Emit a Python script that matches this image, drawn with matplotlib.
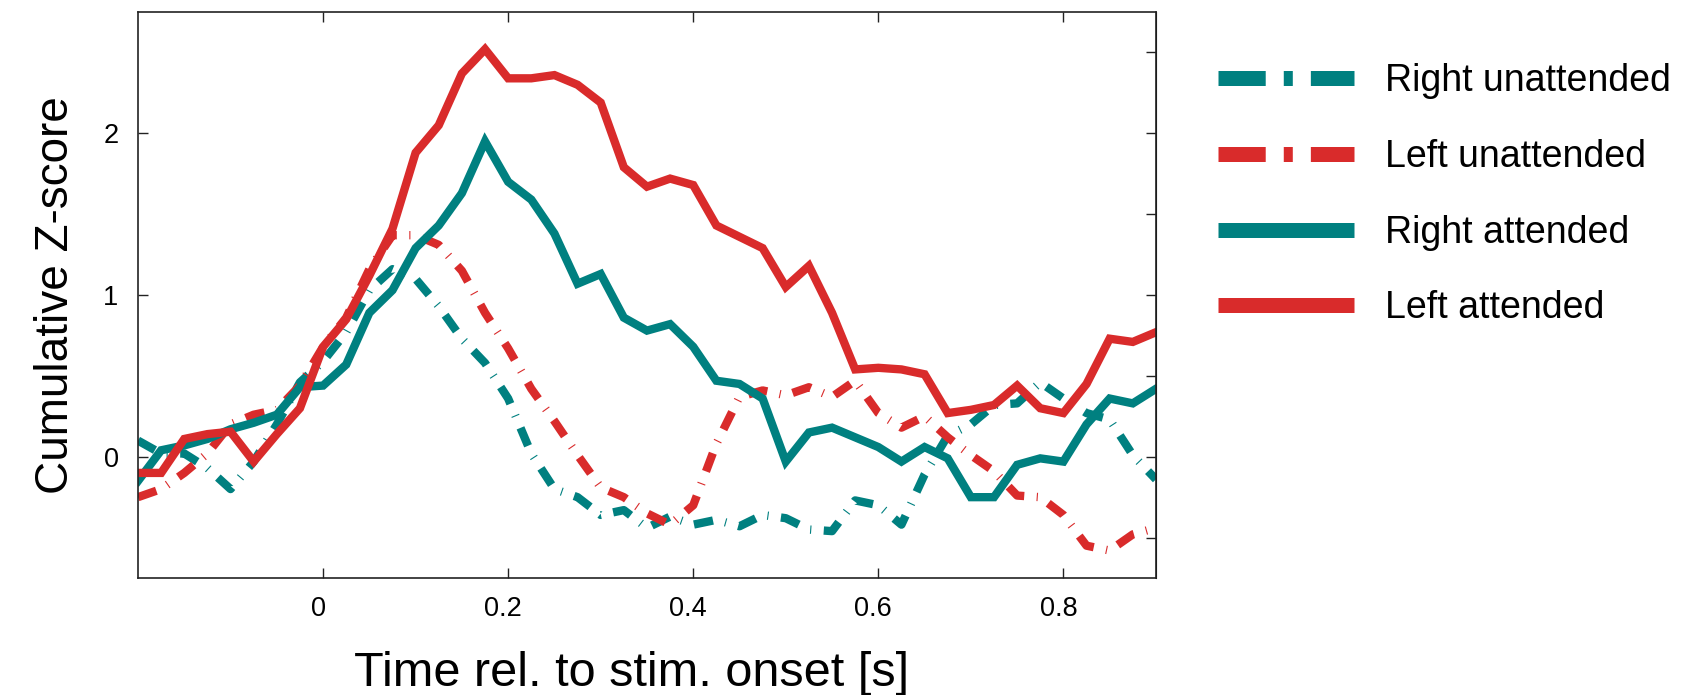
import numpy as np
import matplotlib
matplotlib.use("Agg")
import matplotlib.pyplot as plt
import matplotlib.transforms as mtransforms
from matplotlib.lines import Line2D

plt.rcParams['font.family'] = ['Liberation Sans', 'DejaVu Sans']
plt.rcParams['lines.scale_dashes'] = False

# time axis [s], one sample every 25 ms
time = [-0.2, -0.175, -0.15, -0.125, -0.1, -0.075, -0.05, -0.025, 0.0,
        0.025, 0.05, 0.075, 0.1, 0.125, 0.15, 0.175, 0.2, 0.225, 0.25,
        0.275, 0.3, 0.325, 0.35, 0.375, 0.4, 0.425, 0.45, 0.475, 0.5,
        0.525, 0.55, 0.575, 0.6, 0.625, 0.65, 0.675, 0.7, 0.725, 0.75,
        0.775, 0.8, 0.825, 0.85, 0.875, 0.9]

right_unattended = [0.10, 0.02, 0.02, -0.07, -0.20, -0.03, 0.20, 0.46, 0.59,
                    0.77, 1.03, 1.16, 1.10, 0.93, 0.73, 0.58, 0.36, 0.02, -0.20,
                    -0.25, -0.36, -0.33, -0.44, -0.37, -0.42, -0.39, -0.43, -0.36,
                    -0.38, -0.45, -0.46, -0.27, -0.30, -0.42, -0.11, 0.13, 0.20,
                    0.32, 0.33, 0.46, 0.36, 0.27, 0.23, 0.01, -0.14]
left_unattended = [-0.25, -0.20, -0.10, 0.02, 0.20, 0.26, 0.29, 0.44, 0.68,
                   0.86, 1.16, 1.37, 1.37, 1.31, 1.15, 0.89, 0.67, 0.42, 0.22,
                   0.01, -0.19, -0.25, -0.35, -0.42, -0.30, 0.08, 0.37, 0.41,
                   0.38, 0.43, 0.37, 0.47, 0.27, 0.18, 0.25, 0.12, 0.01, -0.09,
                   -0.24, -0.25, -0.36, -0.55, -0.58, -0.48, -0.44]
right_attended = [-0.15, 0.04, 0.07, 0.11, 0.17, 0.21, 0.26, 0.43, 0.44,
                  0.57, 0.89, 1.03, 1.29, 1.43, 1.63, 1.95, 1.70, 1.59, 1.38,
                  1.07, 1.13, 0.86, 0.78, 0.82, 0.68, 0.47, 0.45, 0.36, -0.03,
                  0.15, 0.18, 0.12, 0.06, -0.03, 0.06, -0.01, -0.25, -0.25,
                  -0.05, -0.01, -0.03, 0.20, 0.36, 0.33, 0.42]
left_attended = [-0.10, -0.10, 0.11, 0.14, 0.155, -0.03, 0.14, 0.30, 0.68,
                 0.85, 1.12, 1.41, 1.88, 2.05, 2.37, 2.52, 2.34, 2.34, 2.36,
                 2.30, 2.19, 1.79, 1.67, 1.72, 1.68, 1.43, 1.36, 1.29, 1.05,
                 1.18, 0.89, 0.54, 0.55, 0.54, 0.51, 0.27, 0.29, 0.32, 0.44,
                 0.30, 0.27, 0.45, 0.73, 0.71, 0.77]

labels = ['Right unattended', 'Left unattended', 'Right attended', 'Left attended']
teal = '#008080'
red = '#d92b2b'

fig = plt.figure(figsize=(16.87, 6.95), dpi=100)
ax = fig.add_axes([0.0818, 0.1683, 0.6034, 0.8144])

lw = 6.0
dashdot = (0, (14, 9, 0.8, 9))
ax.plot(time, right_unattended, color=teal, lw=lw, linestyle=dashdot)
ax.plot(time, left_unattended, color=red, lw=lw, linestyle=dashdot)
ax.plot(time, right_attended, color=teal, lw=lw, solid_joinstyle='miter')
ax.plot(time, left_attended, color=red, lw=lw, solid_joinstyle='miter')

ax.set_xlim(-0.2, 0.9)
ax.set_ylim(-0.75, 2.75)
ax.set_xticks([0, 0.2, 0.4, 0.6, 0.8])
ax.set_xticklabels(['0', '0.2', '0.4', '0.6', '0.8'])
ax.set_yticks([0, 1, 2])
ax.tick_params(direction='in', length=7, width=1.0, labelsize=19.5,
               top=True, colors='#222222', labelcolor='black')
ax.tick_params(axis='x', pad=13)
ax.tick_params(axis='y', pad=14)
for sp in ax.spines.values():
    sp.set_linewidth(1.2)
    sp.set_color('#222222')

# tick labels sit a little left of their ticks in the original
shift = mtransforms.ScaledTranslation(-5 / 100, 0, fig.dpi_scale_trans)
for lab in ax.get_xticklabels():
    lab.set_transform(lab.get_transform() + shift)

# right side has extra ticks every 0.5
right = ax.secondary_yaxis('right')
right.set_yticks([-0.5, 0, 0.5, 1, 1.5, 2, 2.5])
right.tick_params(direction='in', length=7, width=1.0, labelright=False,
                  colors='#222222')

ax.set_xlabel('Time rel. to stim. onset [s]', fontsize=35, labelpad=21)
ax.xaxis.label.set_x(0.485)
ax.set_ylabel('Cumulative Z-score', fontsize=33, labelpad=18)

leg_style = (0, (34, 13, 6.5, 13))
handles = [
    Line2D([], [], color=teal, lw=10.8, linestyle=leg_style, dash_capstyle='butt'),
    Line2D([], [], color=red, lw=10.8, linestyle=leg_style, dash_capstyle='butt'),
    Line2D([], [], color=teal, lw=10.8, solid_capstyle='butt'),
    Line2D([], [], color=red, lw=10.8, solid_capstyle='butt'),
]
fig.legend(handles, labels, loc='upper left', bbox_to_anchor=(0.7217, 0.909),
           frameon=False, fontsize=27, handlelength=3.65, handletextpad=0.82,
           labelspacing=1.06, borderpad=0, borderaxespad=0)

fig.savefig('out.png', dpi=100)
